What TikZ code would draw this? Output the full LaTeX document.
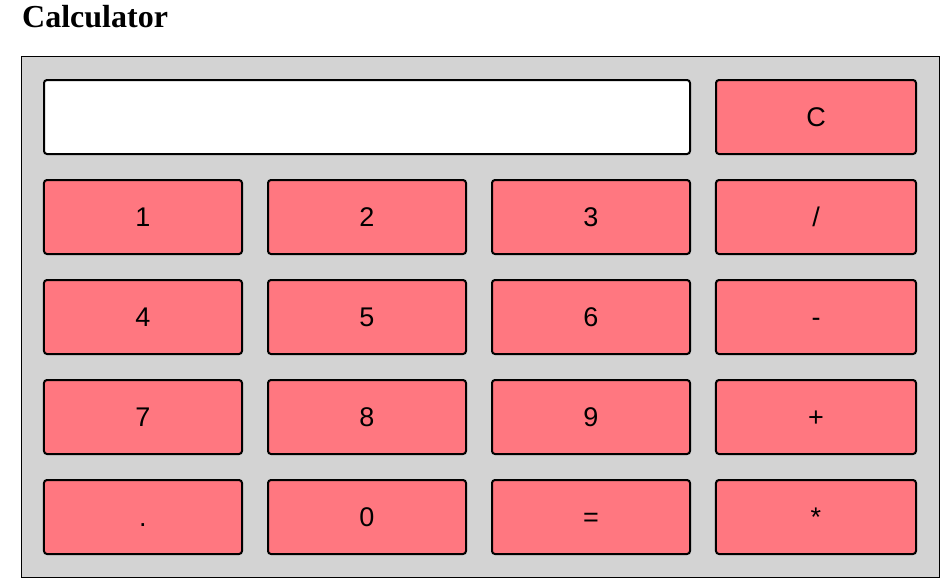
\documentclass[tikz,border=0pt]{standalone}
\usepackage{fontspec}
\setmainfont{Liberation Serif}
\setsansfont{Liberation Sans}
\usepackage{tikz}
\usetikzlibrary{matrix,positioning}
\definecolor{keypink}{RGB}{255,119,128}
\definecolor{casegray}{RGB}{211,211,211}

\begin{document}
\begin{tikzpicture}[x=1pt,y=-1pt,
	key/.style={draw, line width=2pt, rounded corners=3pt, fill=keypink, inner sep=0pt, outer sep=0pt,
		minimum width=198pt, minimum height=74pt, text height=19.3pt, text depth=0pt,
		font=\sffamily\fontsize{27}{32}\selectfont},
	screen/.style={draw, line width=2pt, rounded corners=3pt, fill=white, inner sep=0pt, outer sep=0pt,
		minimum width=646pt, minimum height=74pt}]
\useasboundingbox (0,0) rectangle (950,587);
\node[anchor=base west, inner sep=0pt, font=\bfseries\fontsize{32}{38}\selectfont] (title) at (22,27) {Calculator};
\filldraw[fill=casegray, draw=black, line width=1pt] (21.5,56.5) rectangle (939,577);
\matrix (m) [matrix of nodes, row sep=24pt, column sep=24pt, inner sep=0pt, outer sep=0pt,
	nodes={key}, column 4/.style={nodes={minimum width=200pt}}, anchor=north west] at (43,179)
{
	1 & 2 & 3 & / \\
	4 & 5 & 6 & - \\
	7 & 8 & 9 & + \\
	. & 0 & = & * \\
};
\node[key, minimum width=200pt, above=26pt of m-1-4] (clear) {C};
\node[screen, left=26pt of clear] (display) {};
\end{tikzpicture}
\end{document}
